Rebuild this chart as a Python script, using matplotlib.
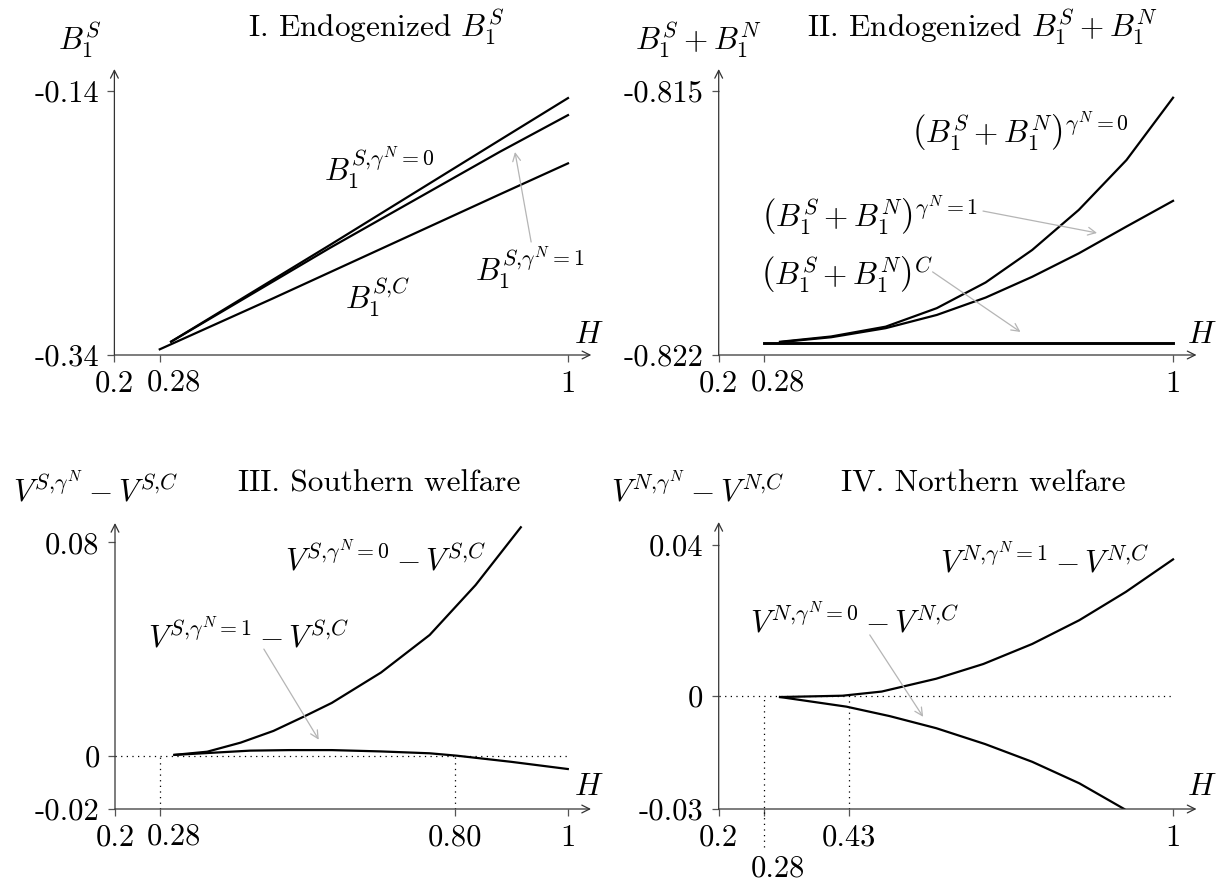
import matplotlib
matplotlib.use("Agg")
import matplotlib.pyplot as plt

plt.rcParams["font.family"] = "serif"
plt.rcParams["font.serif"] = ["cmr10"]
plt.rcParams["mathtext.fontset"] = "cm"
plt.rcParams["axes.unicode_minus"] = False
plt.rcParams["axes.formatter.use_mathtext"] = True

# Panel I: B1^S against H
h_c1 = [0.28, 0.48, 0.88, 1.0]
b_c1 = [-0.3357, -0.2971, -0.2184, -0.1950]
h_g1 = [0.30, 0.58, 0.88, 1.0]
b_g0_1 = [-0.3299, -0.2568, -0.1773, -0.1456]
b_g1_1 = [-0.3299, -0.2590, -0.1862, -0.1585]

# Panel II: B1^S + B1^N against H
h_c2 = [0.28, 1.0]
bb_c2 = [-0.82169, -0.82169]
h_g2 = [0.308, 0.398, 0.494, 0.584, 0.670, 0.752, 0.834, 0.918, 1.0]
bb_g0_2 = [-0.82165, -0.82151, -0.82125, -0.82076, -0.82008, -0.81922, -0.81816, -0.81684, -0.81519]
bb_g1_2 = [-0.82166, -0.82153, -0.82129, -0.82094, -0.82048, -0.81993, -0.81931, -0.81860, -0.81792]

# Panel III: southern welfare differences
h_s0 = [0.305, 0.363, 0.422, 0.480, 0.535, 0.583, 0.670, 0.756, 0.837, 0.917]
vs_g0 = [0.0003, 0.0015, 0.0049, 0.0093, 0.0148, 0.0198, 0.0312, 0.0453, 0.0640, 0.0857]
h_s1 = [0.305, 0.439, 0.508, 0.583, 0.670, 0.756, 0.804, 0.900, 1.0]
vs_g1 = [0.0003, 0.0019, 0.0021, 0.0021, 0.0016, 0.0009, 0.0, -0.0023, -0.0050]

# Panel IV: northern welfare differences
h_n1 = [0.308, 0.418, 0.487, 0.583, 0.666, 0.752, 0.835, 0.917, 1.0]
vn_g1 = [-0.00035, 0.0, 0.0011, 0.0045, 0.0084, 0.0137, 0.0200, 0.0275, 0.0361]
h_n0 = [0.308, 0.425, 0.501, 0.583, 0.669, 0.752, 0.835, 0.914]
vn_g0 = [-0.00035, -0.0029, -0.0054, -0.0086, -0.0128, -0.0175, -0.0232, -0.0300]

W, HGT = 1225, 884
fig = plt.figure(figsize=(W / 100, HGT / 100), dpi=100)

AX_COL = "#555555"
ARROW_COL = "#b5b5b5"
FS = 22.5
TICK_FS = 22


def px(x, y):
    return x / W, 1 - y / HGT


def make_axes(left, right, top, bottom, xlim, ylim, xticks, xlabels, yticks, ylabels):
    ax = fig.add_axes([left / W, 1 - bottom / HGT, (right - left) / W, (bottom - top) / HGT])
    ax.set_xlim(*xlim)
    ax.set_ylim(*ylim)
    for s in ax.spines.values():
        s.set_visible(False)
    ax.patch.set_visible(False)
    ax.set_xticks(xticks)
    ax.set_xticklabels(xlabels)
    ax.set_yticks(yticks)
    ax.set_yticklabels(ylabels)
    ax.tick_params(direction="out", length=5, width=0.9, color=AX_COL,
                   labelsize=TICK_FS, pad=6)
    arrow = dict(arrowstyle="->", color="#333333", lw=0.9, mutation_scale=14,
                 shrinkA=0, shrinkB=0)
    ax.annotate("", xy=(1, 0), xytext=(0, 0), xycoords="axes fraction", arrowprops=arrow)
    ax.annotate("", xy=(0, 1), xytext=(0, 0), xycoords="axes fraction", arrowprops=arrow)
    return ax


def label_028(ax, ymin, dy=-20):
    # the 0.28 label sits a little to the right of its tick
    ax.annotate("0.28", xy=(0.28, ymin), xytext=(10, dy), textcoords="offset points",
                fontsize=TICK_FS, ha="center", va="center")


def pointer(ax, start, end):
    ax.annotate("", xy=end, xytext=start,
                arrowprops=dict(arrowstyle="->", color=ARROW_COL, lw=0.9,
                                mutation_scale=14, shrinkA=0, shrinkB=0))


line_kw = dict(color="black", lw=1.6, solid_joinstyle="round")
dot_kw = dict(color="black", lw=0.9, linestyle=(0, (1, 3.5)))

# ---- I. Endogenized B1^S
ax1 = make_axes(114.4, 591.3, 69, 355, (0.2, 1.0411), (-0.34, -0.1236),
                [0.2, 0.28, 1], ["0.2", "", "1"], [-0.34, -0.14], ["-0.34", "-0.14"])
label_028(ax1, -0.34)
ax1.plot(h_c1, b_c1, **line_kw)
ax1.plot(h_g1, b_g0_1, **line_kw)
ax1.plot(h_g1, b_g1_1, **line_kw)
ax1.text(0.666, -0.1985, r"$B_1^{S{,}\gamma^N{=}0}$", fontsize=FS, ha="center", va="center")
ax1.text(0.664, -0.2961, r"$B_1^{S{,}C}$", fontsize=FS, ha="center", va="center")
ax1.text(0.933, -0.2742, r"$B_1^{S{,}\gamma^N{=}1}$", fontsize=FS, ha="center", va="center")
pointer(ax1, (0.935, -0.2545), (0.9065, -0.1864))
fig.text(*px(80, 40), r"$B_1^S$", fontsize=FS, ha="center", va="center")
fig.text(*px(375.7, 27), r"I. Endogenized $B_1^S$", fontsize=FS, ha="center", va="center")
fig.text(*px(589, 335), r"$H$", fontsize=FS, ha="center", va="center")

# ---- II. Endogenized B1^S + B1^N
ax2 = make_axes(718.7, 1196.5, 69, 355, (0.2, 1.0413), (-0.822, -0.81443),
                [0.2, 0.28, 1], ["0.2", "", "1"], [-0.822, -0.815], ["-0.822", "-0.815"])
label_028(ax2, -0.822)
ax2.plot(h_c2, bb_c2, color="black", lw=2.1)
ax2.plot(h_g2, bb_g0_2, **line_kw)
ax2.plot(h_g2, bb_g1_2, **line_kw)
ax2.text(0.7315, -0.81608, r"$\left(B_1^S+B_1^N\right)^{\gamma^N{=}0}$", fontsize=FS,
         ha="center", va="center")
ax2.text(0.4664, -0.81829, r"$\left(B_1^S+B_1^N\right)^{\gamma^N{=}1}$", fontsize=FS,
         ha="center", va="center")
ax2.text(0.4268, -0.81988, r"$\left(B_1^S+B_1^N\right)^{C}$", fontsize=FS,
         ha="center", va="center")
pointer(ax2, (0.6654, -0.81819), (0.8662, -0.81877))
pointer(ax2, (0.5766, -0.81980), (0.7314, -0.82139))
fig.text(*px(698, 40), r"$B_1^S+B_1^N$", fontsize=FS, ha="center", va="center")
fig.text(*px(982, 27), r"II. Endogenized $B_1^S+B_1^N$", fontsize=FS, ha="center", va="center")
fig.text(*px(1202, 335), r"$H$", fontsize=FS, ha="center", va="center")

# ---- III. Southern welfare
ax3 = make_axes(115, 591, 523, 809, (0.2, 1.041), (-0.02, 0.0873),
                [0.2, 0.28, 0.80, 1], ["0.2", "", "0.80", "1"],
                [-0.02, 0, 0.08], ["-0.02", "0", "0.08"])
label_028(ax3, -0.02)
ax3.plot([0.2, 1.0], [0, 0], **dot_kw)
ax3.plot([0.28, 0.28], [-0.02, 0], **dot_kw)
ax3.plot([0.80, 0.80], [-0.02, 0], **dot_kw)
ax3.plot(h_s0, vs_g0, **line_kw)
ax3.plot(h_s1, vs_g1, **line_kw)
ax3.text(0.677, 0.0741, r"$V^{S{,}\gamma^N{=}0}-V^{S{,}C}$", fontsize=FS, ha="center", va="center")
ax3.text(0.4365, 0.0451, r"$V^{S{,}\gamma^N{=}1}-V^{S{,}C}$", fontsize=FS, ha="center", va="center")
pointer(ax3, (0.463, 0.0400), (0.560, 0.0060))
fig.text(*px(95.7, 490), r"$V^{S{,}\gamma^N}-V^{S{,}C}$", fontsize=FS, ha="center", va="center")
fig.text(*px(379.6, 484), "III. Southern welfare", fontsize=FS, ha="center", va="center")
fig.text(*px(589, 787), r"$H$", fontsize=FS, ha="center", va="center")

# ---- IV. Northern welfare
ax4 = make_axes(718.7, 1196.5, 522, 809, (0.2, 1.0413), (-0.03, 0.046),
                [0.2, 0.28, 0.43, 1], ["0.2", "", "0.43", "1"],
                [-0.03, 0, 0.04], ["-0.03", "0", "0.04"])
label_028(ax4, -0.03, dy=-43)
ax4.plot([0.2, 1.0], [0, 0], **dot_kw)
ax4.plot([0.28, 0.28], [-0.04, 0], clip_on=False, **dot_kw)
ax4.plot([0.43, 0.43], [-0.03, 0], **dot_kw)
ax4.plot(h_n1, vn_g1, **line_kw)
ax4.plot(h_n0, vn_g0, **line_kw)
ax4.text(0.773, 0.0359, r"$V^{N{,}\gamma^N{=}1}-V^{N{,}C}$", fontsize=FS, ha="center", va="center")
ax4.text(0.439, 0.0198, r"$V^{N{,}\gamma^N{=}0}-V^{N{,}C}$", fontsize=FS, ha="center", va="center")
pointer(ax4, (0.466, 0.0161), (0.560, -0.0056))
fig.text(*px(698, 490), r"$V^{N{,}\gamma^N}-V^{N{,}C}$", fontsize=FS, ha="center", va="center")
fig.text(*px(983, 484), "IV. Northern welfare", fontsize=FS, ha="center", va="center")
fig.text(*px(1202, 787), r"$H$", fontsize=FS, ha="center", va="center")

fig.savefig("out.png", dpi=100)
